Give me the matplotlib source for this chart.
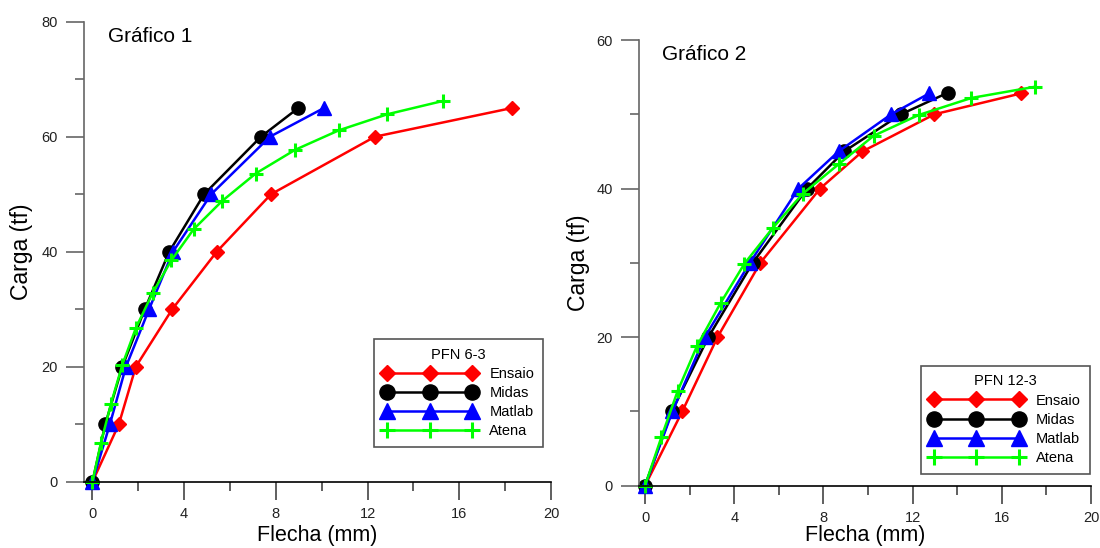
import matplotlib
matplotlib.use('Agg')
import matplotlib.pyplot as plt
from matplotlib.ticker import MultipleLocator

plt.rcParams['font.family'] = ['Liberation Sans', 'DejaVu Sans']

# Gráfico 1 - PFN 6-3
g1_ensaio_x = [0, 1.15, 1.89, 3.48, 5.42, 7.79, 12.32, 18.31]
g1_ensaio_y = [0, 10, 20, 30, 40, 50, 60, 65]
g1_midas_x = [0, 0.56, 1.30, 2.28, 3.35, 4.87, 7.35, 8.98]
g1_midas_y = [0, 10, 20, 30, 40, 50, 60, 65]
g1_matlab_x = [0, 0.76, 1.46, 2.47, 3.51, 5.18, 7.74, 10.1]
g1_matlab_y = [0, 10, 20, 30, 40, 50, 60, 65]
g1_atena_x = [0, 0.37, 0.81, 1.30, 1.89, 2.62, 3.44, 4.41, 5.65, 7.12, 8.83, 10.74, 12.86, 15.27]
g1_atena_y = [0, 6.8, 13.6, 20.3, 26.7, 32.8, 38.5, 43.9, 48.8, 53.6, 57.7, 61.1, 63.9, 66.2]

# Gráfico 2 - PFN 12-3
g2_ensaio_x = [0, 1.67, 3.25, 5.17, 7.85, 9.75, 12.98, 16.85]
g2_ensaio_y = [0, 10, 20, 30, 40, 45, 50, 52.8]
g2_midas_x = [0, 1.20, 2.84, 4.83, 7.27, 8.93, 11.48, 13.58]
g2_midas_y = [0, 10, 20, 30, 40, 45, 50, 52.9]
g2_matlab_x = [0, 1.23, 2.68, 4.70, 6.88, 8.68, 11.04, 12.74]
g2_matlab_y = [0, 10, 20, 30, 40, 45, 50, 52.8]
g2_atena_x = [0, 0.73, 1.47, 2.33, 3.39, 4.46, 5.73, 7.07, 8.69, 10.25, 12.27, 14.64, 17.48]
g2_atena_y = [0, 6.5, 12.8, 18.8, 24.6, 29.9, 34.7, 39.3, 43.3, 47.1, 49.9, 52.2, 53.7]

fig = plt.figure(figsize=(11, 5.48), dpi=100)
ax1 = fig.add_axes([84 / 1100, (548 - 481.7) / 548, 467 / 1100, 460 / 548])
ax2 = fig.add_axes([639 / 1100, (548 - 485.7) / 548, 452 / 1100, 445.7 / 548])


def draw(ax, data, xmin, ymax, title, leg_title, leg_anchor):
    (ex, ey), (mx, my), (tx, ty), (ax_, ay) = data
    ax.plot(ex, ey, color='#ff0000', lw=1.8, marker='D', ms=7.5, label='Ensaio', clip_on=False)
    ax.plot(mx, my, color='black', lw=1.8, marker='o', ms=9.5, label='Midas', clip_on=False)
    ax.plot(tx, ty, color='#0000ff', lw=1.8, marker='^', ms=9.5, label='Matlab', clip_on=False)
    ax.plot(ax_, ay, color='#00ff00', lw=1.8, marker='+', ms=10, mew=2.2, label='Atena', clip_on=False)

    ax.set_xlim(xmin, 20)
    ax.set_ylim(0, ymax)
    ax.xaxis.set_major_locator(MultipleLocator(4))
    ax.xaxis.set_minor_locator(MultipleLocator(2))
    ax.yaxis.set_major_locator(MultipleLocator(20))
    ax.yaxis.set_minor_locator(MultipleLocator(10))
    for s in ['top', 'right']:
        ax.spines[s].set_visible(False)
    ax.spines['left'].set_color('#666666')
    ax.spines['bottom'].set_color('black')
    ax.spines['left'].set_linewidth(1.2)
    ax.spines['bottom'].set_linewidth(1.2)
    ax.tick_params(axis='both', which='major', direction='out', length=13, width=1.2,
                   labelsize=10.5, pad=6, labelcolor='#222222')
    ax.tick_params(axis='x', which='major', pad=5)
    ax.tick_params(axis='both', which='minor', direction='out', length=6.5, width=1.2)
    ax.tick_params(axis='y', which='both', color='#666666')
    ax.tick_params(axis='x', which='both', color='#444444')

    ax.text(0.051, 0.967, title, transform=ax.transAxes, fontsize=15, ha='left', va='center')
    ax.text(-0.133, 0.50, 'Carga (tf)', transform=ax.transAxes, fontsize=16.5,
            rotation=90, ha='center', va='center')
    # x label placed in figure pixels so it sits just above the bottom edge
    xc = ax.get_position().x0 + ax.get_position().width / 2
    fig.text(xc, 12.5 / 548, 'Flecha (mm)', fontsize=15.5, ha='center', va='center')

    leg = ax.legend(title=leg_title, loc='lower right', bbox_to_anchor=leg_anchor,
                    borderaxespad=0, fontsize=10.5, title_fontsize=10.5, numpoints=3,
                    handlelength=6.4, handletextpad=0.9, labelspacing=0.35,
                    borderpad=0.6, markerscale=1.15, fancybox=False, framealpha=1,
                    edgecolor='#555555')
    leg.get_frame().set_linewidth(1.2)


draw(ax1, [(g1_ensaio_x, g1_ensaio_y), (g1_midas_x, g1_midas_y),
           (g1_matlab_x, g1_matlab_y), (g1_atena_x, g1_atena_y)],
     -0.37, 80, 'Gráfico 1', 'PFN 6-3', (0.983, 0.075))
draw(ax2, [(g2_ensaio_x, g2_ensaio_y), (g2_midas_x, g2_midas_y),
           (g2_matlab_x, g2_matlab_y), (g2_atena_x, g2_atena_y)],
     -0.27, 60, 'Gráfico 2', 'PFN 12-3', (0.997, 0.027))

fig.savefig('out.png', dpi=100)
